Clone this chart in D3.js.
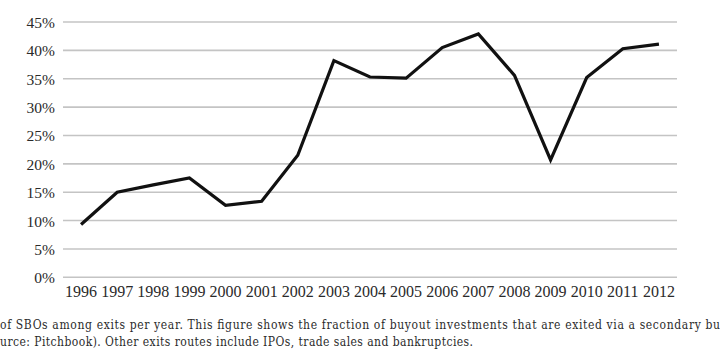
<!DOCTYPE html>
<html><head><meta charset="utf-8">
<script src="https://cdn.jsdelivr.net/npm/d3@7"></script>
<style>html,body{margin:0;padding:0;background:#fff;overflow:hidden}</style>
</head><body>
<svg id="chart" width="720" height="360"></svg>
<script>
const years = ["1996","1997","1998","1999","2000","2001","2002","2003","2004","2005","2006","2007","2008","2009","2010","2011","2012"];
const sboShare = [9.3, 15.0, 16.3, 17.5, 12.7, 13.4, 21.5, 38.2, 35.3, 35.1, 40.5, 42.9, 35.6, 20.7, 35.2, 40.3, 41.1];
const yTicks = [0, 5, 10, 15, 20, 25, 30, 35, 40, 45];
const captionLines = [
  "of SBOs among exits per year. This figure shows the fraction of buyout investments that are exited via a secondary bu",
  "urce: Pitchbook). Other exits routes include IPOs, trade sales and bankruptcies."
];

const svg = d3.select("#chart");
const plotLeft = 63, plotRight = 677, plotTop = 22, plotBottom = 277.3;

const x = d3.scaleBand().domain(years).range([plotLeft, plotRight]);
const y = d3.scaleLinear().domain([0, 45]).range([plotBottom, plotTop]);

// gridlines
svg.append("g").selectAll("line").data(yTicks).join("line")
  .attr("x1", plotLeft).attr("x2", plotRight)
  .attr("y1", d => y(d)).attr("y2", d => y(d))
  .attr("stroke", "#c4c4c4").attr("stroke-width", 1.6);

// y axis labels
const yAxis = d3.axisLeft(y).tickValues(yTicks).tickFormat(d => d + "%").tickSize(0).tickPadding(0);
const gy = svg.append("g").attr("transform", `translate(${plotLeft - 8},0)`).call(yAxis);
gy.select(".domain").remove();
gy.selectAll("text").attr("font-family", "Liberation Serif").attr("font-size", 15.5)
  .attr("fill", "#2a2a2a").attr("dy", "0.35em");

// x axis labels
const xAxis = d3.axisBottom(x).tickSize(0).tickPadding(0);
const gx = svg.append("g").attr("transform", `translate(0,${plotBottom + 8})`).call(xAxis);
gx.select(".domain").remove();
gx.selectAll("text").attr("font-family", "Liberation Serif").attr("font-size", 16)
  .attr("fill", "#2a2a2a").attr("dy", "0.71em");

// line
const line = d3.line().x((d, i) => x(years[i]) + x.bandwidth() / 2).y(d => y(d));
svg.append("path").datum(sboShare).attr("d", line)
  .attr("fill", "none").attr("stroke", "#111").attr("stroke-width", 3.2)
  .attr("stroke-linejoin", "miter");

// caption
const capWidths = [720, 473];
svg.append("g").selectAll("text").data(captionLines).join("text")
  .attr("x", 0).attr("y", (d, i) => 329 + i * 16.5)
  .attr("font-family", "DejaVu Serif").attr("font-stretch", "condensed")
  .style("font-stretch", "condensed")
  .attr("font-size", 12).attr("fill", "#2b2b2b")
  .attr("textLength", (d, i) => capWidths[i]).attr("lengthAdjust", "spacing")
  .text(d => d);
</script>
</body></html>
